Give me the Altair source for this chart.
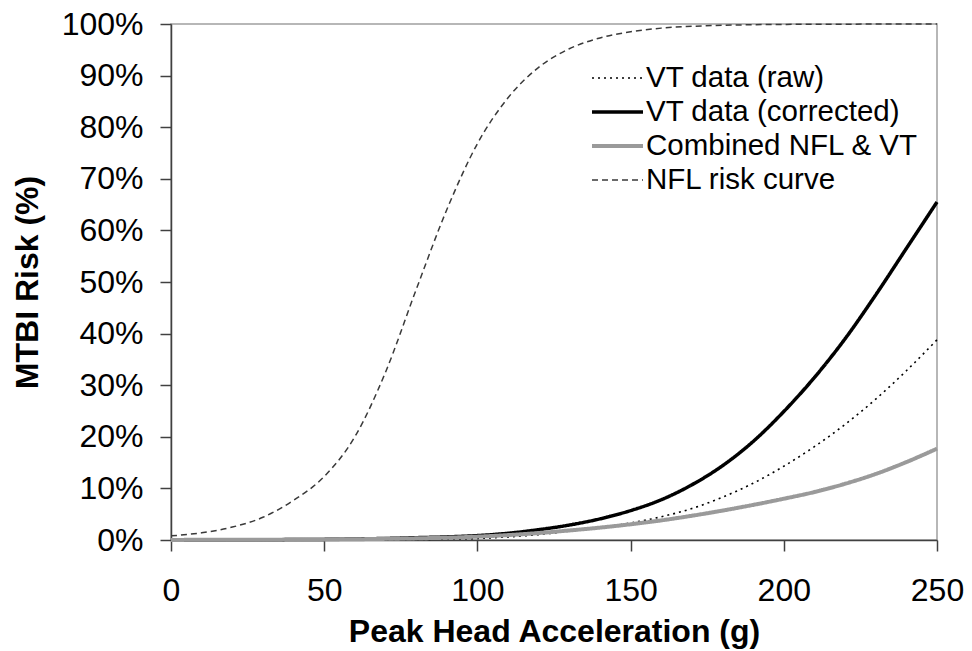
import altair as alt
import pandas as pd

FONT = "Liberation Sans"

X_VALUES = [0, 10, 20, 30, 40, 50, 60, 70, 80, 90, 100, 110, 120,
            130, 140, 150, 160, 170, 180, 190, 200, 210, 220, 230, 240, 250]

# risk values in percent
VT_RAW = [0.0, 0.0, 0.0, 0.01, 0.01, 0.02, 0.03, 0.06, 0.1, 0.18, 0.3, 0.6, 1.05,
          1.7, 2.4, 3.3, 4.5, 6.1, 8.3, 11.0, 14.3, 18.1, 22.4, 27.3, 32.8, 38.8]
VT_CORRECTED = [0.02, 0.03, 0.04, 0.06, 0.08, 0.12, 0.2, 0.3, 0.45, 0.6, 0.85, 1.3, 2.0,
                2.9, 4.1, 5.7, 7.8, 10.7, 14.4, 19.1, 24.9, 31.5, 39.0, 47.5, 56.5, 65.5]
COMBINED = [0.02, 0.03, 0.04, 0.06, 0.08, 0.1, 0.15, 0.22, 0.32, 0.45, 0.65, 0.95, 1.35,
            1.85, 2.4, 3.05, 3.8, 4.7, 5.7, 6.8, 8.0, 9.3, 10.9, 12.8, 15.1, 17.7]
NFL = [0.8, 1.4, 2.5, 4.4, 7.7, 12.3, 20.0, 32.5, 48.5, 64.0, 76.8, 85.7, 91.6,
       95.2, 97.3, 98.5, 99.2, 99.55, 99.75, 99.86, 99.92, 99.95, 99.97, 99.98, 99.99, 99.99]

SERIES = ["VT data (raw)", "VT data (corrected)", "Combined NFL & VT", "NFL risk curve"]
COLORS = ["#000000", "#000000", "#9a9a9a", "#3a3a3a"]
DASHES = [[2, 4], [1, 0], [1, 0], [6, 4]]
WIDTHS = [1.6, 3.5, 4.0, 1.5]

X_TICKS = [0, 50, 100, 150, 200, 250]
Y_TICKS = [0, 0.1, 0.2, 0.3, 0.4, 0.5, 0.6, 0.7, 0.8, 0.9, 1.0]

rows = []
for name, vals in zip(SERIES, [VT_RAW, VT_CORRECTED, COMBINED, NFL]):
    for x, v in zip(X_VALUES, vals):
        rows.append({"accel": x, "risk": v / 100.0, "series": name})
df = pd.DataFrame(rows)

legend = alt.Legend(
    title=None, orient="none", legendX=419, legendY=37,
    symbolType="stroke", symbolSize=2601, labelFont=FONT, labelFontSize=29.5,
    labelColor="black", clipHeight=34, labelOffset=1, padding=0, rowPadding=0,
    labelLimit=500,
)

axis_common = dict(
    domainColor="#404040", domainWidth=1.5, tickColor="#404040", tickWidth=1.5,
    tickSize=11, labelFont=FONT, labelFontSize=32, labelColor="black",
    titleFont=FONT, titleFontSize=32, titleFontWeight="bold", titleColor="black",
    grid=False, labelFlush=False,
)

chart = alt.Chart(df).mark_line(interpolate="monotone").encode(
    x=alt.X("accel:Q", scale=alt.Scale(domain=[0, 250], nice=False),
            axis=alt.Axis(values=X_TICKS, title="Peak Head Acceleration (g)",
                          labelPadding=24, titleY=101, titleBaseline="alphabetic",
                          **axis_common)),
    y=alt.Y("risk:Q", scale=alt.Scale(domain=[0, 1], nice=False),
            axis=alt.Axis(values=Y_TICKS, format=".0%", title="MTBI Risk (%)",
                          labelPadding=17, titleX=-127, **axis_common)),
    color=alt.Color("series:N", scale=alt.Scale(domain=SERIES, range=COLORS), legend=legend),
    strokeDash=alt.StrokeDash("series:N", scale=alt.Scale(domain=SERIES, range=DASHES), legend=legend),
    strokeWidth=alt.StrokeWidth("series:N",
                                scale=alt.Scale(type="ordinal", domain=SERIES, range=WIDTHS),
                                legend=legend),
).properties(
    width=766, height=516,
    autosize=alt.AutoSizeParams(type="none"),
    padding={"left": 163, "top": 16, "right": 27, "bottom": 110},
).configure_view(
    stroke="#a0a0a0", strokeWidth=1.5,
)

chart.save("out.html", embed_options={"renderer": "svg", "actions": False})
